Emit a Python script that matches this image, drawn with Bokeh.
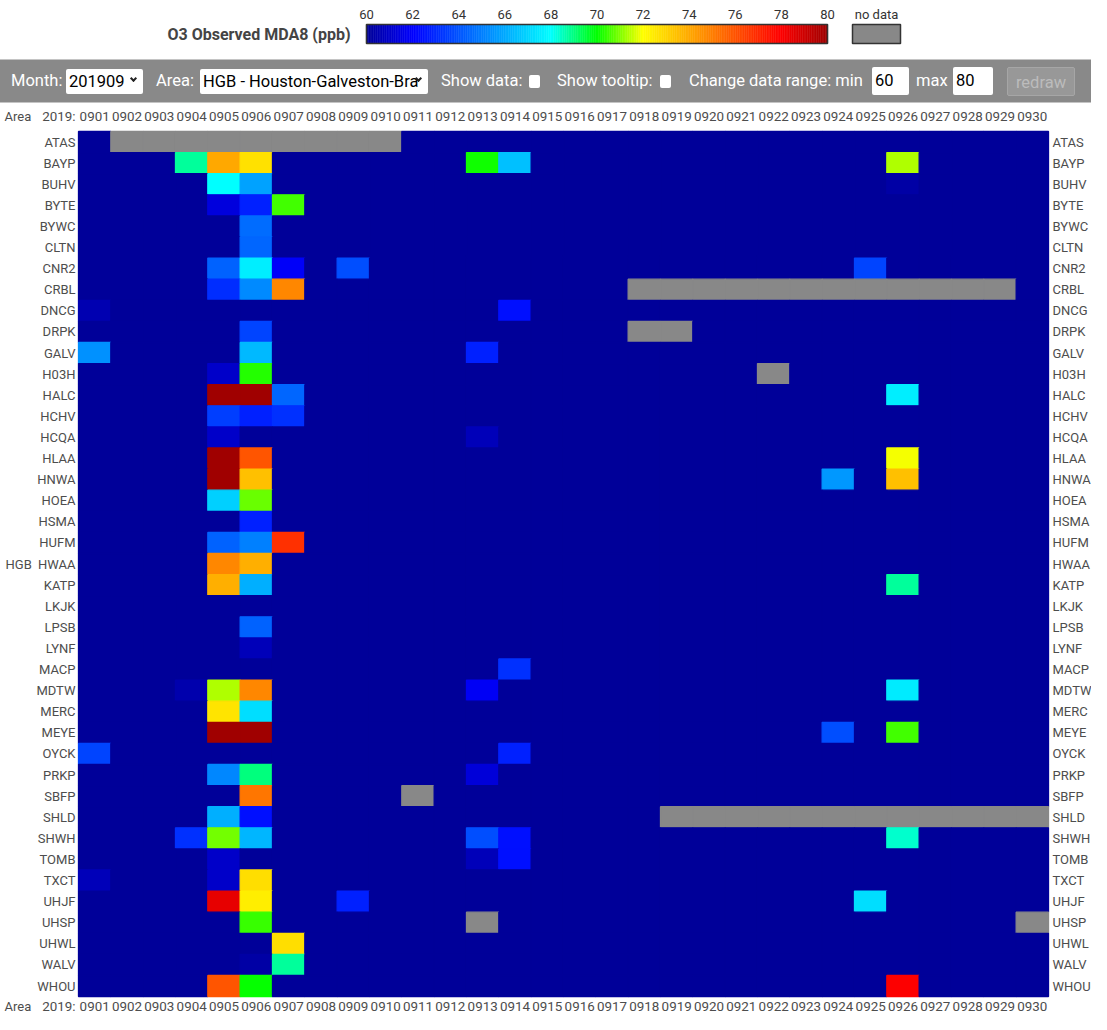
import numpy as np
from bokeh.plotting import figure
from bokeh.models import Range1d, LinearColorMapper, Div, ColumnDataSource
from bokeh.layouts import column
from bokeh.core.properties import value
from bokeh.embed import file_html
from bokeh.resources import INLINE

# ---------------- data ----------------
dates = ["0901", "0902", "0903", "0904", "0905", "0906", "0907", "0908", "0909", "0910",
         "0911", "0912", "0913", "0914", "0915", "0916", "0917", "0918", "0919", "0920",
         "0921", "0922", "0923", "0924", "0925", "0926", "0927", "0928", "0929", "0930"]
stations = ["ATAS", "BAYP", "BUHV", "BYTE", "BYWC", "CLTN", "CNR2", "CRBL", "DNCG", "DRPK",
            "GALV", "H03H", "HALC", "HCHV", "HCQA", "HLAA", "HNWA", "HOEA", "HSMA", "HUFM",
            "HWAA", "KATP", "LKJK", "LPSB", "LYNF", "MACP", "MDTW", "MERC", "MEYE", "OYCK",
            "PRKP", "SBFP", "SHLD", "SHWH", "TOMB", "TXCT", "UHJF", "UHSP", "UHWL", "WALV", "WHOU"]
area_name = "HGB"
year_label = "2019:"
colorbar_ticks = [60, 62, 64, 66, 68, 70, 72, 74, 76, 78, 80]
range_min, range_max = 60, 80
N = None
#        0901 0902 0903 0904 0905 0906 0907 0908 0909 0910 0911 0912 0913 0914 0915 0916 0917 0918 0919 0920 0921 0922 0923 0924 0925 0926 0927 0928 0929 0930
ATAS = [55, N, N, N, N, N, N, N, N, N, 55, 55, 55, 55, 55, 55, 55, 55, 55, 55, 55, 55, 55, 55, 55, 55, 55, 55, 55, 55]
BAYP = [55, 55, 55, 68.8, 74.0, 72.7, 55, 55, 55, 55, 55, 55, 70.1, 66.5, 55, 55, 55, 55, 55, 55, 55, 55, 55, 55, 55, 71.4, 55, 55, 55, 55]
BUHV = [55, 55, 55, 55, 68.0, 65.8, 55, 55, 55, 55, 55, 55, 55, 55, 55, 55, 55, 55, 55, 55, 55, 55, 55, 55, 55, 60.3, 55, 55, 55, 55]
BYTE = [55, 55, 55, 55, 61.4, 62.8, 70.5, 55, 55, 55, 55, 55, 55, 55, 55, 55, 55, 55, 55, 55, 55, 55, 55, 55, 55, 55, 55, 55, 55, 55]
BYWC = [55, 55, 55, 55, 55, 64.6, 55, 55, 55, 55, 55, 55, 55, 55, 55, 55, 55, 55, 55, 55, 55, 55, 55, 55, 55, 55, 55, 55, 55, 55]
CLTN = [55, 55, 55, 55, 55, 64.4, 55, 55, 55, 55, 55, 55, 55, 55, 55, 55, 55, 55, 55, 55, 55, 55, 55, 55, 55, 55, 55, 55, 55, 55]
CNR2 = [55, 55, 55, 55, 64.3, 67.6, 61.9, 55, 63.9, 55, 55, 55, 55, 55, 55, 55, 55, 55, 55, 55, 55, 55, 55, 55, 63.6, 55, 55, 55, 55, 55]
CRBL = [55, 55, 55, 55, 63.1, 65.3, 74.8, 55, 55, 55, 55, 55, 55, 55, 55, 55, 55, N, N, N, N, N, N, N, N, N, N, N, N, 55]
DNCG = [60.5, 55, 55, 55, 55, 55, 55, 55, 55, 55, 55, 55, 55, 62.4, 55, 55, 55, 55, 55, 55, 55, 55, 55, 55, 55, 55, 55, 55, 55, 55]
DRPK = [55, 55, 55, 55, 55, 63.6, 55, 55, 55, 55, 55, 55, 55, 55, 55, 55, 55, N, N, 55, 55, 55, 55, 55, 55, 55, 55, 55, 55, 55]
GALV = [65.4, 55, 55, 55, 55, 66.4, 55, 55, 55, 55, 55, 55, 62.8, 55, 55, 55, 55, 55, 55, 55, 55, 55, 55, 55, 55, 55, 55, 55, 55, 55]
H03H = [55, 55, 55, 55, 61.0, 70.3, 55, 55, 55, 55, 55, 55, 55, 55, 55, 55, 55, 55, 55, 55, 55, N, 55, 55, 55, 55, 55, 55, 55, 55]
HALC = [55, 55, 55, 55, 80.8, 80.8, 64.4, 55, 55, 55, 55, 55, 55, 55, 55, 55, 55, 55, 55, 55, 55, 55, 55, 55, 55, 67.6, 55, 55, 55, 55]
HCHV = [55, 55, 55, 55, 63.5, 62.8, 63.2, 55, 55, 55, 55, 55, 55, 55, 55, 55, 55, 55, 55, 55, 55, 55, 55, 55, 55, 55, 55, 55, 55, 55]
HCQA = [55, 55, 55, 55, 61.0, 55, 55, 55, 55, 55, 55, 55, 60.7, 55, 55, 55, 55, 55, 55, 55, 55, 55, 55, 55, 55, 55, 55, 55, 55, 55]
HLAA = [55, 55, 55, 55, 80.6, 76.0, 55, 55, 55, 55, 55, 55, 55, 55, 55, 55, 55, 55, 55, 55, 55, 55, 55, 55, 55, 71.9, 55, 55, 55, 55]
HNWA = [55, 55, 55, 55, 80.7, 73.5, 55, 55, 55, 55, 55, 55, 55, 55, 55, 55, 55, 55, 55, 55, 55, 55, 55, 65.6, 55, 73.5, 55, 55, 55, 55]
HOEA = [55, 55, 55, 55, 66.9, 70.8, 55, 55, 55, 55, 55, 55, 55, 55, 55, 55, 55, 55, 55, 55, 55, 55, 55, 55, 55, 55, 55, 55, 55, 55]
HSMA = [55, 55, 55, 55, 55, 62.8, 55, 55, 55, 55, 55, 55, 55, 55, 55, 55, 55, 55, 55, 55, 55, 55, 55, 55, 55, 55, 55, 55, 55, 55]
HUFM = [55, 55, 55, 55, 64.3, 65.0, 76.8, 55, 55, 55, 55, 55, 55, 55, 55, 55, 55, 55, 55, 55, 55, 55, 55, 55, 55, 55, 55, 55, 55, 55]
HWAA = [55, 55, 55, 55, 74.8, 73.9, 55, 55, 55, 55, 55, 55, 55, 55, 55, 55, 55, 55, 55, 55, 55, 55, 55, 55, 55, 55, 55, 55, 55, 55]
KATP = [55, 55, 55, 55, 73.9, 66.1, 55, 55, 55, 55, 55, 55, 55, 55, 55, 55, 55, 55, 55, 55, 55, 55, 55, 55, 55, 68.8, 55, 55, 55, 55]
LKJK = [55, 55, 55, 55, 55, 55, 55, 55, 55, 55, 55, 55, 55, 55, 55, 55, 55, 55, 55, 55, 55, 55, 55, 55, 55, 55, 55, 55, 55, 55]
LPSB = [55, 55, 55, 55, 55, 64.3, 55, 55, 55, 55, 55, 55, 55, 55, 55, 55, 55, 55, 55, 55, 55, 55, 55, 55, 55, 55, 55, 55, 55, 55]
LYNF = [55, 55, 55, 55, 55, 60.7, 55, 55, 55, 55, 55, 55, 55, 55, 55, 55, 55, 55, 55, 55, 55, 55, 55, 55, 55, 55, 55, 55, 55, 55]
MACP = [55, 55, 55, 55, 55, 55, 55, 55, 55, 55, 55, 55, 55, 63.2, 55, 55, 55, 55, 55, 55, 55, 55, 55, 55, 55, 55, 55, 55, 55, 55]
MDTW = [55, 55, 55, 60.4, 71.4, 74.8, 55, 55, 55, 55, 55, 55, 61.8, 55, 55, 55, 55, 55, 55, 55, 55, 55, 55, 55, 55, 67.5, 55, 55, 55, 55]
MERC = [55, 55, 55, 55, 72.6, 67.2, 55, 55, 55, 55, 55, 55, 55, 55, 55, 55, 55, 55, 55, 55, 55, 55, 55, 55, 55, 55, 55, 55, 55, 55]
MEYE = [55, 55, 55, 55, 80.9, 80.9, 55, 55, 55, 55, 55, 55, 55, 55, 55, 55, 55, 55, 55, 55, 55, 55, 55, 63.9, 55, 70.5, 55, 55, 55, 55]
OYCK = [63.6, 55, 55, 55, 55, 55, 55, 55, 55, 55, 55, 55, 55, 62.8, 55, 55, 55, 55, 55, 55, 55, 55, 55, 55, 55, 55, 55, 55, 55, 55]
PRKP = [55, 55, 55, 55, 65.2, 69.0, 55, 55, 55, 55, 55, 55, 61.3, 55, 55, 55, 55, 55, 55, 55, 55, 55, 55, 55, 55, 55, 55, 55, 55, 55]
SBFP = [55, 55, 55, 55, 55, 75.2, 55, 55, 55, 55, N, 55, 55, 55, 55, 55, 55, 55, 55, 55, 55, 55, 55, 55, 55, 55, 55, 55, 55, 55]
SHLD = [55, 55, 55, 55, 66.1, 62.4, 55, 55, 55, 55, 55, 55, 55, 55, 55, 55, 55, 55, N, N, N, N, N, N, N, N, N, N, N, N]
SHWH = [55, 55, 55, 63.2, 70.9, 66.3, 55, 55, 55, 55, 55, 55, 63.9, 62.4, 55, 55, 55, 55, 55, 55, 55, 55, 55, 55, 55, 68.4, 55, 55, 55, 55]
TOMB = [55, 55, 55, 55, 61.0, 55, 55, 55, 55, 55, 55, 55, 60.7, 62.4, 55, 55, 55, 55, 55, 55, 55, 55, 55, 55, 55, 55, 55, 55, 55, 55]
TXCT = [60.7, 55, 55, 55, 61.0, 72.8, 55, 55, 55, 55, 55, 55, 55, 55, 55, 55, 55, 55, 55, 55, 55, 55, 55, 55, 55, 55, 55, 55, 55, 55]
UHJF = [55, 55, 55, 55, 78.5, 72.4, 55, 55, 62.8, 55, 55, 55, 55, 55, 55, 55, 55, 55, 55, 55, 55, 55, 55, 55, 67.2, 55, 55, 55, 55, 55]
UHSP = [55, 55, 55, 55, 55, 70.4, 55, 55, 55, 55, 55, 55, N, 55, 55, 55, 55, 55, 55, 55, 55, 55, 55, 55, 55, 55, 55, 55, 55, N]
UHWL = [55, 55, 55, 55, 55, 55, 72.8, 55, 55, 55, 55, 55, 55, 55, 55, 55, 55, 55, 55, 55, 55, 55, 55, 55, 55, 55, 55, 55, 55, 55]
WALV = [55, 55, 55, 55, 55, 60.3, 68.8, 55, 55, 55, 55, 55, 55, 55, 55, 55, 55, 55, 55, 55, 55, 55, 55, 55, 55, 55, 55, 55, 55, 55]
WHOU = [55, 55, 55, 55, 76.0, 70.0, 55, 55, 55, 55, 55, 55, 55, 55, 55, 55, 55, 55, 55, 55, 55, 55, 55, 55, 55, 78.0, 55, 55, 55, 55]

rows = [ATAS, BAYP, BUHV, BYTE, BYWC, CLTN, CNR2, CRBL, DNCG, DRPK, GALV, H03H, HALC, HCHV,
        HCQA, HLAA, HNWA, HOEA, HSMA, HUFM, HWAA, KATP, LKJK, LPSB, LYNF, MACP, MDTW, MERC,
        MEYE, OYCK, PRKP, SBFP, SHLD, SHWH, TOMB, TXCT, UHJF, UHSP, UHWL, WALV, WHOU]

# ---------------- styles ----------------
FONT = "Roboto"
LABEL_COLOR = "#4d4d4d"
NODATA = "#888888"
W = 1091
HDR_H, BAND_H = 59, 44
HEAT_H = 1014 - HDR_H - BAND_H

stops = [(0.0, (0, 0, 153)), (0.1, (0, 0, 255)), (0.4, (0, 255, 255)), (0.5, (0, 255, 0)),
         (0.6, (255, 255, 0)), (0.9, (255, 0, 0)), (1.0, (160, 0, 0))]
palette = []
for i in range(256):
    t = i / 255
    for (t0, c0), (t1, c1) in zip(stops[:-1], stops[1:]):
        if t0 <= t <= t1:
            f = (t - t0) / (t1 - t0)
            rgb = [round(a + (b - a) * f) for a, b in zip(c0, c1)]
            palette.append("#%02x%02x%02x" % tuple(rgb))
            break
mapper = LinearColorMapper(palette=palette, low=range_min, high=range_max, nan_color=NODATA,
                           low_color=palette[0], high_color=palette[-1])

def base_fig(h, xr, yr):
    f = figure(width=W, height=h, x_range=xr, y_range=yr, min_border=0,
               toolbar_location=None, output_backend="svg",
               x_axis_location=None, y_axis_location=None)
    f.outline_line_color = None
    f.grid.visible = False
    return f

# ---------------- header (title + colour bar) ----------------
bar_x0, bar_px = 366, 461 / (range_max - range_min)   # pixel of range_min, pixels per unit
hdr = base_fig(HDR_H,
               Range1d(range_min - bar_x0 / bar_px, range_min + (W - bar_x0) / bar_px),
               Range1d(HDR_H, 0))
n = len(palette)
edges = [range_min + (range_max - range_min) * k / n for k in range(n + 1)]
bar_src = ColumnDataSource(dict(left=edges[:-1], right=edges[1:], color=palette))
hdr.quad(left="left", right="right", bottom=43, top=24, fill_color="color", line_color="color",
         line_width=0.5, source=bar_src)
hdr.quad(left=range_min, right=range_max, bottom=43, top=24, fill_color=None,
         line_color="#333333", line_width=1.6)
nd_left = range_max + 25 / bar_px
nd_right = range_max + 73 / bar_px
hdr.quad(left=nd_left, right=nd_right, bottom=43, top=24, fill_color=NODATA,
         line_color="#333333", line_width=1.5)
hdr.text(x=colorbar_ticks, y=[14] * len(colorbar_ticks), text=[str(t) for t in colorbar_ticks],
         text_align="center", text_baseline="middle", text_font=value(FONT),
         text_font_size="13px", text_color="#333333")
hdr.text(x=[(nd_left + nd_right) / 2], y=[14], text=["no data"], text_align="center",
         text_baseline="middle", text_font=value(FONT), text_font_size="13px", text_color="#333333")
hdr.text(x=[range_min - 16 / bar_px], y=[33.5], text=["O3 Observed MDA8 (ppb)"],
         text_align="right", text_baseline="middle", text_font=value(FONT),
         text_font_size="16px", text_font_style="bold", text_color="#444444")

# ---------------- controls band ----------------
def txt(left, s):
    return (f'<span style="position:absolute;left:{left}px;top:9px;height:24px;line-height:24px;'
            f'color:#ffffff;white-space:nowrap;">{s}</span>')

def box(left, top, w, h, s, chevron=False, color="#000000", bg="#ffffff", border="none", center=False):
    chev = ('<span style="position:absolute;right:7px;top:7px;width:5px;height:5px;'
            'border-right:2px solid #222;border-bottom:2px solid #222;transform:rotate(45deg);"></span>'
            if chevron else "")
    align = "center" if center else "left"
    return (f'<span style="position:absolute;left:{left}px;top:{top}px;width:{w}px;height:{h}px;'
            f'line-height:{h}px;background:{bg};border:{border};border-radius:2px;color:{color};'
            f'padding-left:{0 if center else 3}px;box-sizing:border-box;overflow:hidden;'
            f'white-space:nowrap;text-align:{align};">{s}{chev}</span>')

controls_html = (
    f'<div style="position:relative;width:{W}px;height:{BAND_H}px;background:#898989;'
    f'border-top:1px solid #c4c4c4;border-bottom:1px solid #c4c4c4;box-sizing:border-box;'
    f"font-family:'{FONT}',sans-serif;font-size:16.5px;\">"
    + txt(11, "Month:")
    + box(66, 9, 77, 25, "201909", chevron=True)
    + txt(156, "Area:")
    + box(200, 9, 228, 25, "HGB - Houston-Galveston-Bra", chevron=True)
    + txt(441, "Show data:")
    + box(529, 15, 11, 13, "")
    + txt(557, "Show tooltip:")
    + box(660, 15, 11, 13, "")
    + txt(689, "Change data range: min")
    + box(872, 7, 37, 28, "60")
    + txt(916, "max")
    + box(953, 7, 40, 28, "80")
    + box(1007, 7, 68, 29, "redraw", color="#bcbcbc", bg="#989898",
          border="1px solid #a6a6a6", center=True)
    + "</div>"
)
controls = Div(text=controls_html, width=W, height=BAND_H, margin=(0, 0, 0, 0))

# ---------------- heat map ----------------
grid_left, col_px = 78, 970 / len(dates)        # pixel layout of the cell grid
grid_top, row_px = 28, 21.1                      # grid top measured from the heat-map figure top
heat = base_fig(HEAT_H,
                Range1d(-grid_left / col_px, (W - grid_left) / col_px),
                Range1d((HEAT_H - grid_top) / row_px, -grid_top / row_px))

n_rows, n_cols = len(stations), len(dates)
# backdrop in the lowest colour so that no hairline seams show between equal cells
heat.quad(left=[0], right=[n_cols], top=[0], bottom=[n_rows], fill_color=palette[0],
          line_color=None)

xs, ys, vals = [], [], []
for j, row in enumerate(rows):
    for i, v in enumerate(row):
        xs.append(i + 0.5)
        ys.append(j + 0.5)
        vals.append(np.nan if v is None else float(v))
src = ColumnDataSource(dict(x=xs, y=ys, value=np.array(vals)))
heat.rect(x="x", y="y", width=1, height=1, source=src,
          fill_color={"field": "value", "transform": mapper},
          line_color={"field": "value", "transform": mapper}, line_width=1.3)

lab = dict(text_font=value(FONT), text_color=LABEL_COLOR, text_baseline="middle")
row_centers = [j + 0.5 for j in range(n_rows)]
col_centers = [i + 0.5 for i in range(n_cols)]
top_y = -15 / row_px
bottom_y = n_rows + 10 / row_px
# station labels, left and right
heat.text(x=[-3 / col_px] * n_rows, y=row_centers, text=stations, text_align="right",
          text_font_size="13px", **lab)
heat.text(x=[n_cols + 4 / col_px] * n_rows, y=row_centers, text=stations, text_align="left",
          text_font_size="13px", **lab)
# date labels, top and bottom
heat.text(x=col_centers, y=[top_y] * n_cols, text=dates, text_align="center",
          text_font_size="13.4px", **lab)
heat.text(x=col_centers, y=[bottom_y] * n_cols, text=dates, text_align="center",
          text_font_size="13.4px", **lab)
# row-header texts
heat.text(x=[-74 / col_px] * 2, y=[top_y, bottom_y], text=["Area", "Area"], text_align="left",
          text_font_size="13px", **lab)
heat.text(x=[-3 / col_px] * 2, y=[top_y, bottom_y], text=[year_label, year_label],
          text_align="right", text_font_size="13.4px", **lab)
heat.text(x=[-73 / col_px], y=[stations.index("HWAA") + 0.5], text=[area_name],
          text_align="left", text_font_size="13px", **lab)

layout = column(hdr, controls, heat, spacing=0)
open("out.html", "w").write(file_html(layout, INLINE))
